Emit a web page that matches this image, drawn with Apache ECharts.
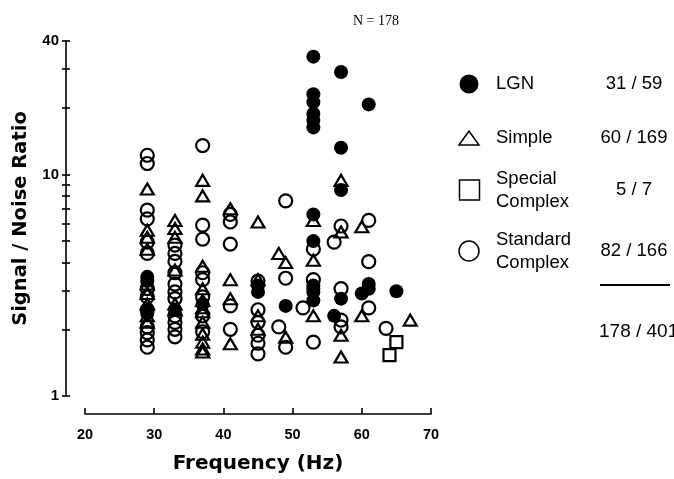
<!DOCTYPE html>
<html>
<head>
<meta charset="utf-8">
<script src="https://cdn.jsdelivr.net/npm/echarts@6/dist/echarts.min.js"></script>
<style>
  html, body { margin: 0; background: #fff; }
  #chart { width: 674px; height: 479px; }
</style>
</head>
<body>
<div id="chart"></div>
<script>
// [frequency (Hz), signal / noise ratio]
const lgnPoints = [
  [29, 3.45], [29, 3.3], [29, 2.35], [29, 2.45], [33, 2.45], [37, 2.6],
  [45, 3.15], [45, 2.95], [49, 2.55],
  [53, 34], [53, 23], [53, 21.2], [53, 18.8], [53, 17.6], [53, 16.3],
  [53, 6.6], [53, 5.0], [53, 3.15], [53, 2.95], [53, 2.7], [53, 3.05],
  [57, 29], [57, 13.2], [57, 8.5], [57, 2.75], [56, 2.3],
  [61, 20.7], [61, 3.2], [60, 2.9], [61, 3.05], [65, 2.97]
]
const simplePoints = [
  [29, 8.6], [29, 5.6], [29, 5.2], [29, 4.6], [29, 3.2], [29, 2.9], [29, 2.6], [29, 2.3], [29, 2.15],
  [33, 6.2], [33, 5.7], [33, 5.2], [33, 3.7], [33, 2.6], [33, 2.45],
  [37, 9.4], [37, 8.0], [37, 3.85], [37, 3.05], [37, 2.7], [37, 2.5], [37, 2.4], [37, 2.15],
  [37, 1.9], [37, 1.75], [37, 1.63], [37, 1.58],
  [41, 7.0], [41, 3.35], [41, 2.75], [41, 1.72],
  [45, 6.1], [45, 3.35], [45, 2.3], [45, 2.0],
  [48, 4.4], [49, 4.0], [49, 1.84],
  [53, 6.2], [53, 4.1], [53, 2.3],
  [57, 9.4], [57, 5.5], [57, 1.88], [57, 1.5],
  [60, 5.8], [60, 2.3], [67, 2.2]
]
const specialPoints = [[65, 1.75], [64, 1.53]]
const standardPoints = [
  [29, 12.2], [29, 11.2], [29, 6.9], [29, 6.3], [29, 4.95], [29, 4.4], [29, 3.05], [29, 2.8],
  [29, 2.45], [29, 2.05], [29, 1.93], [29, 1.79], [29, 1.66],
  [33, 4.8], [33, 4.4], [33, 4.05], [33, 3.6], [33, 3.2], [33, 2.95], [33, 2.75], [33, 2.3],
  [33, 2.15], [33, 2.0], [33, 1.85],
  [37, 13.5], [37, 5.9], [37, 5.1], [37, 3.6], [37, 3.35], [37, 2.8], [37, 2.3], [37, 1.95],
  [41, 6.6], [41, 6.1], [41, 4.85], [41, 2.55], [41, 2.0],
  [45, 3.3], [45, 2.45], [45, 2.15], [45, 1.88], [45, 1.73], [45, 1.55],
  [49, 7.6], [49, 3.4], [48, 2.05], [49, 1.66], [51.5, 2.5],
  [53, 4.6], [53, 3.35], [53, 1.75],
  [57, 5.85], [56, 4.95], [57, 3.05], [57, 2.2], [57, 2.05],
  [61, 6.2], [61, 4.04], [61, 2.5], [63.5, 2.02]
]

const yTickValues = [1, 2, 3, 4, 5, 6, 7, 8, 9, 10, 20, 30, 40]
const yLabelValues = [1, 10, 40]

const legendNames = ['LGN', 'Simple', 'Special\nComplex', 'Standard\nComplex']
const legendCounts = ['31 / 59', '60 / 169', '5 / 7', '82 / 166']
const totalCount = '178 / 401'
const nText = 'N = 178'

const black = '#000'
const labelFont = 'Liberation Sans'
const nameFont = 'DejaVu Sans'

const chart = echarts.init(document.getElementById('chart'))

const openStyle = { color: 'rgba(255,255,255,0)', borderColor: black, borderWidth: 2.2, opacity: 1 }

// legend rows, y positions
const rowY = [84, 138, 190, 251]

const legendGraphics = []
legendGraphics.push({ type: 'circle', shape: { cx: 469, cy: rowY[0], r: 9.5 }, style: { fill: black } })
legendGraphics.push({ type: 'polygon', shape: { points: [[459, rowY[1] + 7], [469, rowY[1] - 7], [479, rowY[1] + 7]] }, style: { fill: 'none', stroke: black, lineWidth: 1.5 } })
legendGraphics.push({ type: 'rect', shape: { x: 459.5, y: rowY[2] - 10, width: 20, height: 20 }, style: { fill: 'none', stroke: black, lineWidth: 1.5 } })
legendGraphics.push({ type: 'circle', shape: { cx: 469, cy: rowY[3], r: 10 }, style: { fill: 'none', stroke: black, lineWidth: 1.5 } })
legendNames.forEach((name, i) => {
  legendGraphics.push({
    type: 'text', x: 496, y: rowY[i],
    style: { text: name, font: '18.5px "' + labelFont + '"', fill: black, verticalAlign: 'middle', lineHeight: 23 }
  })
  legendGraphics.push({
    type: 'text', x: 634, y: rowY[i],
    style: { text: legendCounts[i], font: '18.5px "' + labelFont + '"', fill: black, align: 'center', verticalAlign: 'middle' }
  })
})
legendGraphics.push({ type: 'line', shape: { x1: 600, y1: 285, x2: 670, y2: 285 }, style: { stroke: black, lineWidth: 2 } })
legendGraphics.push({
  type: 'text', x: 599, y: 332,
  style: { text: totalCount, font: '19px "' + labelFont + '"', fill: black, verticalAlign: 'middle' }
})
legendGraphics.push({
  type: 'text', x: 376, y: 21,
  style: { text: nText, font: '14px "Liberation Serif"', fill: black, align: 'center', verticalAlign: 'middle' }
})

chart.setOption({
  animation: false,
  backgroundColor: '#fff',
  grid: { left: 85, right: 243, top: 41, bottom: 82 },
  xAxis: {
    type: 'value',
    min: 20,
    max: 70,
    interval: 10,
    offset: 18,
    axisLine: { lineStyle: { color: black, width: 1.6 } },
    axisTick: { inside: true, length: 6, lineStyle: { color: black, width: 1.6 } },
    axisLabel: { color: black, fontFamily: labelFont, fontWeight: 'bold', fontSize: 14.5, margin: 13 },
    splitLine: { show: false },
    name: 'Frequency (Hz)',
    nameLocation: 'middle',
    nameGap: 40,
    nameTextStyle: { color: black, fontFamily: nameFont, fontWeight: 'bold', fontSize: 20 }
  },
  yAxis: [{
    type: 'log',
    logBase: 10,
    min: 1,
    max: 40,
    position: 'left',
    offset: 19,
    axisLine: { show: true, lineStyle: { color: black, width: 1.6 } },
    axisTick: { show: true, inside: false, length: 4, customValues: yTickValues, lineStyle: { color: black, width: 1.6 } },
    axisLabel: { customValues: yLabelValues, color: black, fontFamily: labelFont, fontWeight: 'bold', fontSize: 15, margin: 7 },
    splitLine: { show: false },
    name: 'Signal / Noise Ratio',
    nameLocation: 'middle',
    nameGap: 34,
    nameTextStyle: { color: black, fontFamily: nameFont, fontWeight: 'bold', fontSize: 19.5 }
  }, {
    type: 'log',
    logBase: 10,
    min: 1,
    max: 40,
    position: 'left',
    offset: 19,
    axisLine: { show: false },
    axisTick: { show: true, inside: true, length: 4, customValues: yTickValues, lineStyle: { color: black, width: 1.6 } },
    axisLabel: { show: false },
    splitLine: { show: false }
  }],
  series: [{
    name: 'LGN', type: 'scatter', data: lgnPoints, symbol: 'circle', symbolSize: 14,
    itemStyle: { color: black, opacity: 1 }, silent: true
  }, {
    name: 'Simple', type: 'scatter', data: simplePoints, symbol: 'triangle', symbolSize: [13, 11],
    itemStyle: openStyle, silent: true
  }, {
    name: 'Special Complex', type: 'scatter', data: specialPoints, symbol: 'rect', symbolSize: 12,
    itemStyle: openStyle, silent: true
  }, {
    name: 'Standard Complex', type: 'scatter', data: standardPoints, symbol: 'circle', symbolSize: 13,
    itemStyle: openStyle, silent: true
  }],
  graphic: legendGraphics
})
</script>
</body>
</html>
